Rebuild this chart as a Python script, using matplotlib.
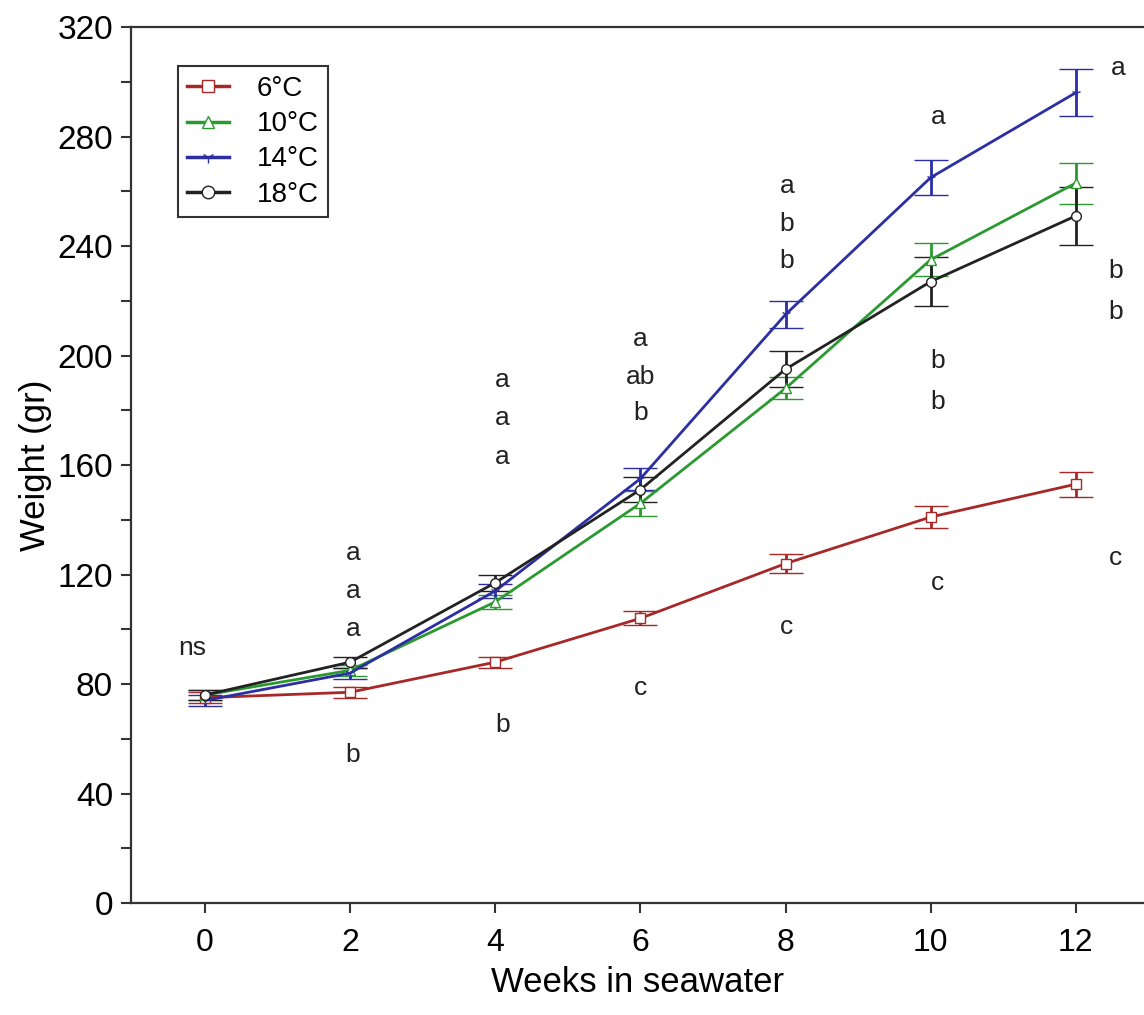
import matplotlib
matplotlib.use("Agg")
import matplotlib.pyplot as plt
from matplotlib.ticker import MultipleLocator
from matplotlib.lines import Line2D

plt.rcParams['font.family'] = ['Liberation Sans', 'DejaVu Sans']

weeks = [0, 2, 4, 6, 8, 10, 12]
series_labels = ["6\u00b0C", "10\u00b0C", "14\u00b0C", "18\u00b0C"]
w6 = [75, 77, 88, 104, 124, 141, 153]
e6 = [2, 2, 2, 2.5, 3.5, 4, 4.5]
w10 = [76, 85, 110, 146, 188, 235, 263]
e10 = [2, 2, 2.5, 4.5, 4, 6, 7.5]
w14 = [74, 84, 114, 155, 215, 265, 296]
e14 = [2, 2, 2.5, 4, 5, 6.5, 8.5]
w18 = [76, 88, 117, 151, 195, 227, 251]
e18 = [2, 2, 3, 4.5, 6.5, 9, 10.5]

colors = ["#a82828", "#2a9a30", "#2c2ea4", "#222222"]
markers = ["s", "^", "1", "o"]

# significance letters: (x, y, text)
letters_x = [-0.17, 2.04, 2.04, 2.04, 2.04, 4.1, 4.1, 4.1, 4.1,
             6.0, 6.0, 6.0, 6.0, 8.02, 8.02, 8.02, 8.02,
             10.1, 10.1, 10.1, 10.1, 12.58, 12.55, 12.55, 12.55]
letters_y = [93, 128, 114, 100, 54, 191, 177, 163, 65,
             206, 192, 179, 78.5, 262, 248, 234.5, 101,
             287, 198, 183, 117, 305, 231, 216, 126]
letters_t = ["ns", "a", "a", "a", "b", "a", "a", "a", "b",
             "a", "ab", "b", "c", "a", "b", "b", "c",
             "a", "b", "b", "c", "a", "b", "b", "c"]

fig = plt.figure(figsize=(11.44, 10.15), dpi=100)
ax = fig.add_axes([0.1145, 0.1103, 0.8855, 0.8631])

data = [(w6, e6), (w10, e10), (w14, e14), (w18, e18)]
handles = []
for (vals, errs), c, m, lab in zip(data, colors, markers, series_labels):
    ax.errorbar(weeks, vals, yerr=errs, color=c, lw=2.0, capsize=12,
                capthick=2.6, elinewidth=2.0, marker=m, markersize=7,
                markerfacecolor="white", markeredgecolor=c, mew=1.0)
    handles.append(Line2D([], [], color=c, lw=2.5, marker=m, markersize=9,
                          markerfacecolor="white", markeredgecolor=c,
                          mew=1.0, label=lab))

for x, y, t in zip(letters_x, letters_y, letters_t):
    ax.text(x, y, t, ha="center", va="center", fontsize=19, color="#222222")

ax.set_xlim(-1.02, 12.94)
ax.set_ylim(0, 320)
ax.xaxis.set_major_locator(MultipleLocator(2))
ax.yaxis.set_major_locator(MultipleLocator(40))
ax.yaxis.set_minor_locator(MultipleLocator(20))

for s in ["left", "bottom", "top"]:
    ax.spines[s].set_linewidth(1.6)
    ax.spines[s].set_color("#333333")
ax.spines["right"].set_visible(False)

ax.tick_params(axis="both", which="major", direction="out", length=7,
               width=1.5, color="#333333")
ax.tick_params(axis="y", which="minor", direction="out", length=7,
               width=1.5, color="#333333")
ax.tick_params(axis="y", labelsize=24, pad=6)
ax.tick_params(axis="x", labelsize=23, pad=11)

ax.set_xlabel("Weeks in seawater", fontsize=25, labelpad=6)
ax.set_ylabel("Weight (gr)", fontsize=25, labelpad=4)

leg = ax.legend(handles=handles, loc="upper left",
                bbox_to_anchor=(0.046, 0.955), borderaxespad=0, fontsize=20,
                frameon=True, fancybox=False, handlelength=1.5,
                borderpad=0.35, labelspacing=0.33, handletextpad=1.0)
leg.get_frame().set_edgecolor("black")
leg.get_frame().set_linewidth(1.5)

fig.savefig("out.png", dpi=100)
